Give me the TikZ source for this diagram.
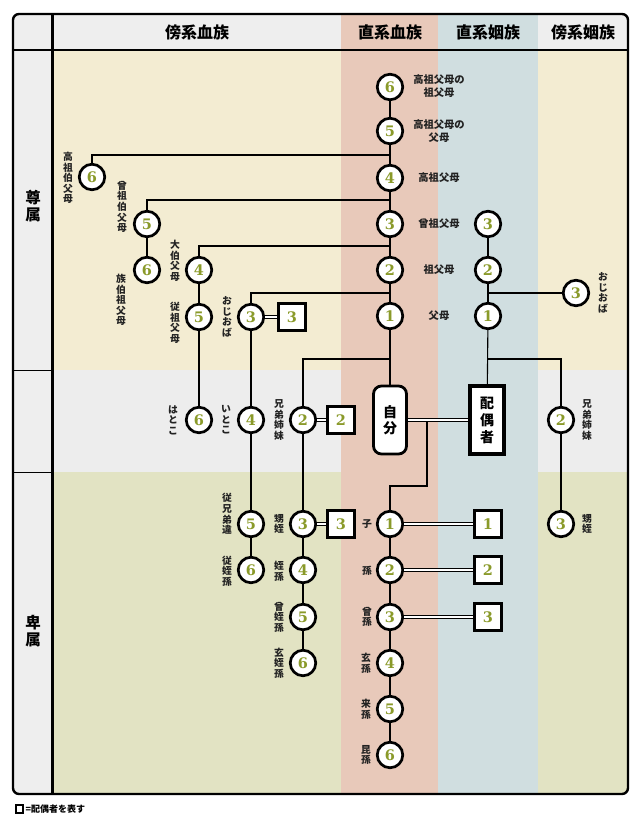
\documentclass[tikz,border=0pt]{standalone}
\usepackage{fontspec}
\setmainfont{Noto Sans CJK JP}
\newfontfamily\numf{DejaVu Serif}
\definecolor{cream}{HTML}{F3ECD2}
\definecolor{bandgray}{HTML}{EDEDED}
\definecolor{bandgreen}{HTML}{E2E3C3}
\definecolor{colpink}{HTML}{E8C9BA}
\definecolor{colblue}{HTML}{D0DEE0}
\definecolor{hdrgray}{HTML}{EEEEEE}
\definecolor{numgreen}{HTML}{8A9A2A}
\definecolor{lbl}{HTML}{222222}
\tikzset{
  circ/.style={circle, draw=black, line width=2.7pt, fill=white, minimum size=25.5pt, inner sep=0pt, font=\numf\bfseries\fontsize{14.5}{14.5}\selectfont, text=numgreen},
  sqn/.style={rectangle, draw=black, line width=3.6pt, fill=white, minimum size=27pt, inner sep=0pt, font=\numf\bfseries\fontsize{14.5}{14.5}\selectfont, text=numgreen},
  conn/.style={line width=1.1pt, draw=black},
  dbl/.style={draw=black, line width=0.9pt, double=white, double distance=2.4pt},
  vl/.style={align=center, inner sep=0pt, text=lbl, font=\bfseries\fontsize{9.8}{10.6}\selectfont},
  hl/.style={align=center, inner sep=0pt, text=lbl, font=\bfseries\fontsize{10.3}{12.5}\selectfont},
  hdr/.style={inner sep=0pt, font=\bfseries\fontsize{16}{16}\selectfont},
  sidelbl/.style={align=center, inner sep=0pt, font=\bfseries\fontsize{15.5}{17.5}\selectfont},
}
\begin{document}
\begin{tikzpicture}[x=1pt,y=-1pt]
\useasboundingbox (0,0) rectangle (640,824);
% backgrounds
\begin{scope}
\clip[rounded corners=6pt] (13,14) rectangle (628,794);
\fill[hdrgray] (13,14) rectangle (628,794);
\fill[cream] (52,50) rectangle (341,370);
\fill[bandgray] (52,370) rectangle (341,472);
\fill[bandgreen] (52,472) rectangle (341,794);
\fill[cream] (538,50) rectangle (628,370);
\fill[bandgray] (538,370) rectangle (628,472);
\fill[bandgreen] (538,472) rectangle (628,794);
\fill[colpink] (341,14) rectangle (438,794);
\fill[colblue] (438,14) rectangle (538,794);
\end{scope}
\draw[line width=1.6pt] (13,50) -- (628,50);
\draw[line width=0.8pt] (13,370) -- (52,370);
\draw[line width=0.8pt] (13,472) -- (52,472);
\draw[line width=3pt] (52,14) -- (52,794);
\draw[line width=2.4pt, rounded corners=6pt] (13,14) rectangle (628,794);
% headers
\node[hdr] (h1) at (197,32) {傍系血族};
\node[hdr] (h2) at (390,32) {直系血族};
\node[hdr] (h3) at (488,32) {直系姻族};
\node[hdr] (h4) at (583,32) {傍系姻族};
\node[sidelbl] (r1) at (33,206) {尊\\属};
\node[sidelbl] (r2) at (33,631) {卑\\属};
% direct line
\node[circ] (d6) at (390,87) {6};
\node[circ] (d5) at (390,131) {5};
\node[circ] (d4) at (390,178) {4};
\node[circ] (d3) at (390,224) {3};
\node[circ] (d2) at (390,270) {2};
\node[circ] (d1) at (390,316) {1};
\node[draw=black, line width=2.8pt, fill=white, rounded corners=8pt, minimum width=33pt, minimum height=68pt, inner sep=0pt, align=center, font=\bfseries\fontsize{14}{16.5}\selectfont] (self) at (390,420) {自\\分};
\node[circ] (c1) at (390,524) {1};
\node[circ] (c2) at (390,570) {2};
\node[circ] (c3) at (390,617) {3};
\node[circ] (c4) at (390,663) {4};
\node[circ] (c5) at (390,709) {5};
\node[circ] (c6) at (390,755) {6};
% spouse line
\node[circ] (s3) at (488,224) {3};
\node[circ] (s2) at (488,270) {2};
\node[circ] (s1) at (488,316) {1};
\node[draw=black, line width=3.6pt, fill=white, minimum width=34pt, minimum height=68pt, inner sep=0pt, align=center, font=\bfseries\fontsize{14}{17}\selectfont] (spouse) at (487,420) {配\\偶\\者};
\node[sqn] (cs1) at (488,524) {1};
\node[sqn] (cs2) at (488,570) {2};
\node[sqn] (cs3) at (488,617) {3};
% right
\node[circ] (ro) at (576,293) {3};
\node[circ] (rs) at (561,420) {2};
\node[circ] (rn) at (561,524) {3};
% left
\node[circ] (a6) at (92,177) {6};
\node[circ] (b5) at (147,224) {5};
\node[circ] (b6) at (147,270) {6};
\node[circ] (e4) at (199,270) {4};
\node[circ] (e5) at (199,317) {5};
\node[circ] (e6) at (199,420) {6};
\node[circ] (f3) at (251,317) {3};
\node[circ] (f4) at (251,420) {4};
\node[circ] (f5) at (251,524) {5};
\node[circ] (f6) at (251,570) {6};
\node[circ] (g2) at (303,420) {2};
\node[circ] (g3) at (303,524) {3};
\node[circ] (g4) at (303,570) {4};
\node[circ] (g5) at (303,617) {5};
\node[circ] (g6) at (303,663) {6};
\node[sqn] (fsq) at (292,317) {3};
\node[sqn] (gsq) at (341,420) {2};
\node[sqn] (g3sq) at (341,524) {3};
% junctions
\coordinate (j155) at (390,155);
\coordinate (j200) at (390,200);
\coordinate (j246) at (390,246);
\coordinate (j293) at (390,293);
\coordinate (j359) at (390,359);
\coordinate (k293) at (488,293);
\coordinate (k359) at (488,359);
\coordinate (m1) at (427,421.6);
\coordinate (m2) at (427,486);
% connectors
\draw[conn] (d6) -- (d5);
\draw[conn] (d5) -- (d4);
\draw[conn] (d4) -- (d3);
\draw[conn] (d3) -- (d2);
\draw[conn] (d2) -- (d1);
\draw[conn] (d1) -- (self);
\draw[conn] (c1) -- (c2);
\draw[conn] (c2) -- (c3);
\draw[conn] (c3) -- (c4);
\draw[conn] (c4) -- (c5);
\draw[conn] (c5) -- (c6);
\draw[conn] (s3) -- (s2);
\draw[conn] (s2) -- (s1);
\draw[conn] (s1) -- (spouse);
\draw[conn] (ro) -- (k293);
\draw[conn] (k359) -| (rs.north);
\draw[conn] (rs) -- (rn);
\draw[conn] (a6.north) |- (j155);
\draw[conn] (b5.north) |- (j200);
\draw[conn] (b5) -- (b6);
\draw[conn] (e4.north) |- (j246);
\draw[conn] (e4) -- (e5);
\draw[conn] (e5) -- (e6);
\draw[conn] (f3.north) |- (j293);
\draw[conn] (f3) -- (f4);
\draw[conn] (f4) -- (f5);
\draw[conn] (f5) -- (f6);
\draw[conn] (g2.north) |- (j359);
\draw[conn] (g2) -- (g3);
\draw[conn] (g3) -- (g4);
\draw[conn] (g4) -- (g5);
\draw[conn] (g5) -- (g6);
\draw[dbl] (self) -- (spouse);
\draw[conn] (m1) -- (m2) -| (c1.north);
\draw[dbl] (f3) -- (fsq);
\draw[dbl] (g2) -- (gsq);
\draw[dbl] (g3) -- (g3sq);
\draw[dbl] (c1) -- (cs1);
\draw[dbl] (c2) -- (cs2);
\draw[dbl] (c3) -- (cs3);
% labels right of direct line
\node[hl] (t6) at (439,86) {高祖父母の\\祖父母};
\node[hl] (t5) at (439,131) {高祖父母の\\父母};
\node[hl] (t4) at (439,178) {高祖父母};
\node[hl] (t3) at (439,224) {曾祖父母};
\node[hl] (t2) at (439,270) {祖父母};
\node[hl] (t1) at (439,316) {父母};
% vertical labels
\node[vl] (la6) at (68,178) {高\\祖\\伯\\父\\母};
\node[vl] (lb5) at (122,207) {曾\\祖\\伯\\父\\母};
\node[vl] (lb6) at (121,300) {族\\伯\\祖\\父\\母};
\node[vl] (le4) at (175,261) {大\\伯\\父\\母};
\node[vl] (le5) at (175,323) {従\\祖\\父\\母};
\node[vl] (lf3) at (227,317) {お\\じ\\お\\ば};
\node[vl] (le6) at (173,420) {は\\と\\こ};
\node[vl] (lf4) at (226,420) {い\\と\\こ};
\node[vl] (lg2) at (279,420) {兄\\弟\\姉\\妹};
\node[vl] (lf5) at (227,514) {従\\兄\\弟\\違};
\node[vl] (lf6) at (227,571) {従\\姪\\孫};
\node[vl] (lg3) at (279,524) {甥\\姪};
\node[vl] (lg4) at (279,571) {姪\\孫};
\node[vl] (lg5) at (279,617) {曾\\姪\\孫};
\node[vl] (lg6) at (279,663) {玄\\姪\\孫};
\node[vl] (lc1) at (367,524) {子};
\node[vl] (lc2) at (367,571) {孫};
\node[vl] (lc3) at (367,617) {曾\\孫};
\node[vl] (lc4) at (366,663) {玄\\孫};
\node[vl] (lc5) at (366,709) {来\\孫};
\node[vl] (lc6) at (366,755) {昆\\孫};
\node[vl] (lro) at (603,293) {お\\じ\\お\\ば};
\node[vl] (lrs) at (587,420) {兄\\弟\\姉\\妹};
\node[vl] (lrn) at (587,524) {甥\\姪};
% legend
\node[draw=black, line width=2pt, minimum size=7.5pt, inner sep=0pt] (lgsq) at (19.5,809) {};
\node[anchor=west, inner sep=0pt, font=\bfseries\fontsize{9}{9}\selectfont] (lgtxt) at (25.5,809) {=配偶者を表す};
\end{tikzpicture}
\end{document}
